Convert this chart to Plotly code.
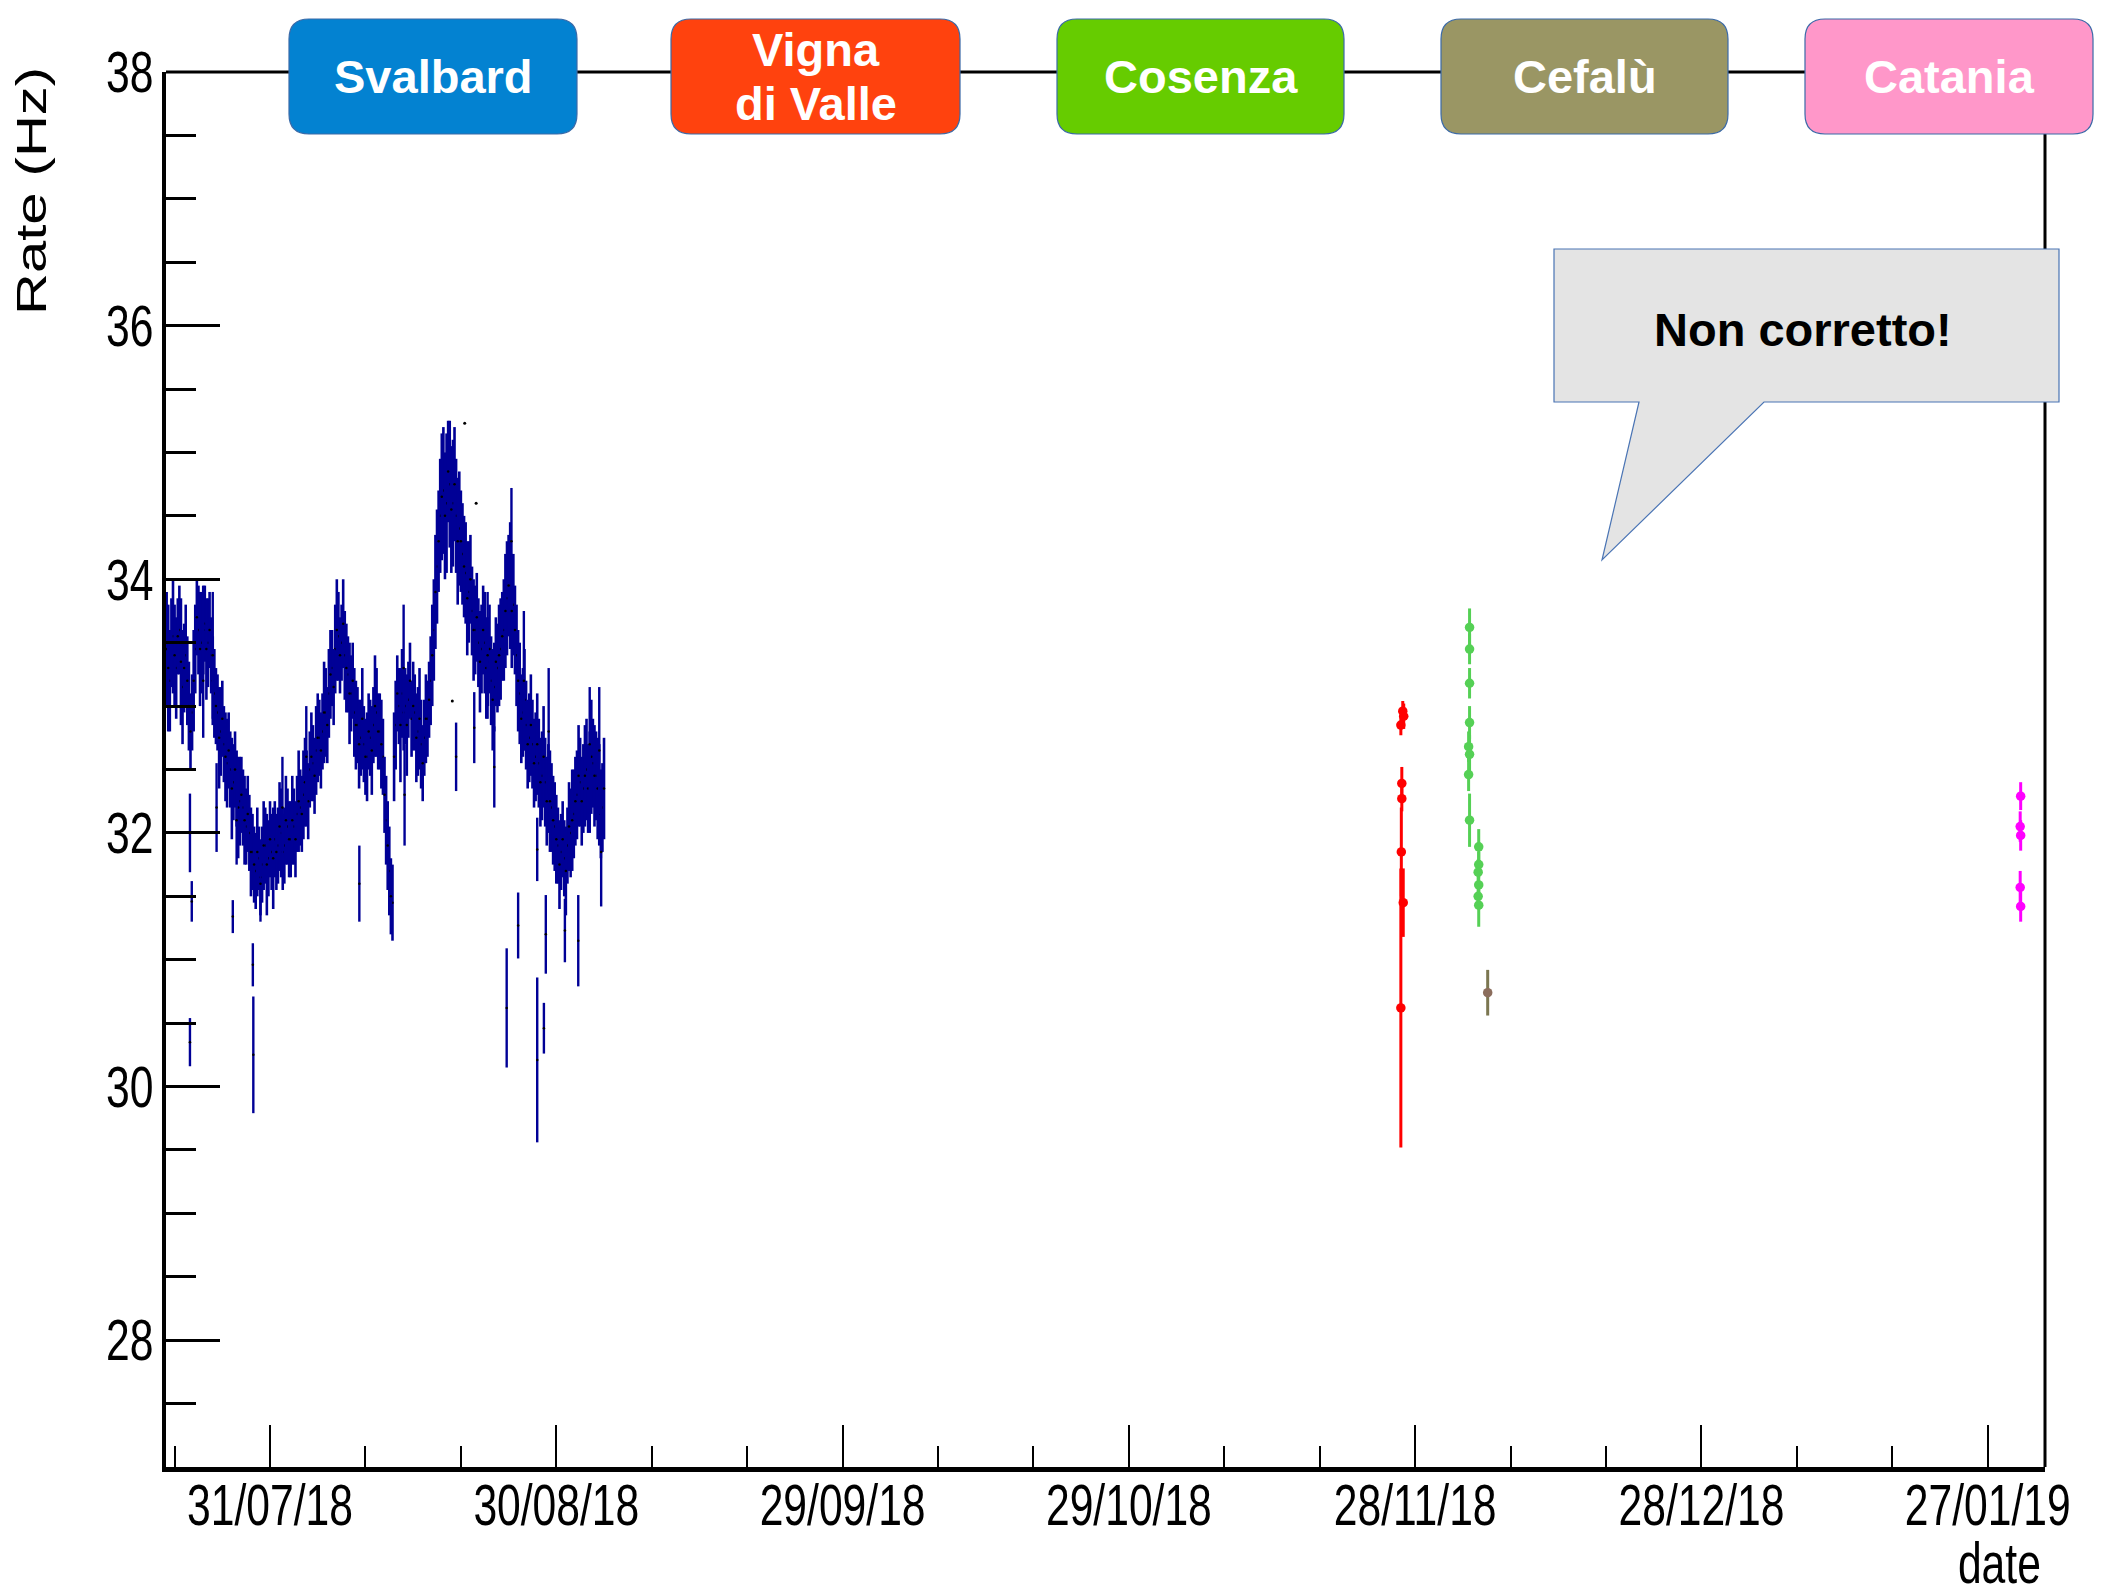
import numpy as np
import pandas as pd
import plotly.graph_objects as go

# ---------------- data ----------------
REF_DATE = pd.Timestamp("2018-07-31")          # day offsets below are relative to this date
SVALBARD_START = "2018-07-20 04:00"            # Svalbard series A: one point every 8 hours
SVALBARD_RATE = [
    33.45, 33.2, 33.55, 33.3, 33.6, 33.15, 33.4, 33.0, 32.95,
    33.45, 33.6, 33.5, 33.65, 33.5, 33.4, 33.1, 32.95, 32.8,
    32.7, 32.55, 32.5, 32.4, 32.35, 32.25, 32.2, 32.05, 32.0,
    31.85, 31.7, 31.8, 31.75, 31.9, 31.8, 31.85, 31.95, 31.9,
    32.0, 31.9, 32.05, 31.95, 32.05, 32.15, 32.2, 32.3, 32.35,
    32.5, 32.55, 32.65, 32.75, 32.8, 32.95, 33.1, 33.3, 33.45,
    33.55, 33.5, 33.4, 33.25, 33.1, 32.95, 32.85, 32.75, 32.7,
    32.6, 32.75, 32.85, 32.95, 32.8, 32.6, 32.1, 31.7, 31.45,
    32.85, 33.0, 33.1, 33.0, 33.05, 32.9, 32.95, 32.8, 32.7,
    32.75, 32.9, 33.2, 33.6, 34.1, 34.5, 34.7, 34.6, 34.75,
    34.6, 34.5, 34.4, 34.2, 34.05, 33.9, 33.75, 33.6, 33.5,
    33.45, 33.5, 33.35, 33.2, 33.15, 33.3, 33.45, 33.6, 33.85,
    33.95, 33.8, 33.4, 33.1, 32.95, 32.85, 32.75, 32.7, 32.6,
    32.55, 32.45, 32.4, 32.35, 32.2, 32.05, 31.9, 31.85, 31.8,
    31.9, 32.0, 32.15, 32.3, 32.4, 32.35, 32.5, 32.4, 32.55,
    32.45, 32.3, 32.2,
]
SVALBARD_ERR = [
    0.45, 0.4, 0.45, 0.4, 0.35, 0.45, 0.4, 0.35, 0.3,
    0.35, 0.35, 0.4, 0.3, 0.35, 0.3, 0.35, 0.3, 0.35,
    0.3, 0.35, 0.3, 0.3, 0.3, 0.35, 0.3, 0.3, 0.3,
    0.3, 0.3, 0.25, 0.3, 0.3, 0.3, 0.3, 0.3, 0.3,
    0.35, 0.3, 0.3, 0.3, 0.3, 0.3, 0.3, 0.35, 0.3,
    0.3, 0.3, 0.35, 0.3, 0.3, 0.35, 0.35, 0.3, 0.35,
    0.35, 0.3, 0.35, 0.3, 0.3, 0.35, 0.3, 0.3, 0.3,
    0.35, 0.3, 0.3, 0.35, 0.3, 0.3, 0.35, 0.35, 0.3,
    0.35, 0.3, 0.35, 0.3, 0.3, 0.3, 0.3, 0.35, 0.35,
    0.3, 0.3, 0.35, 0.4, 0.45, 0.45, 0.5, 0.55, 0.5,
    0.5, 0.45, 0.45, 0.4, 0.4, 0.4, 0.35, 0.35, 0.35,
    0.35, 0.4, 0.35, 0.35, 0.35, 0.35, 0.4, 0.4, 0.45,
    0.5, 0.4, 0.4, 0.4, 0.35, 0.35, 0.35, 0.35, 0.35,
    0.35, 0.35, 0.35, 0.35, 0.35, 0.35, 0.3, 0.3, 0.3,
    0.3, 0.35, 0.35, 0.35, 0.35, 0.35, 0.4, 0.4, 0.35,
    0.35, 0.4, 0.35,
]
SVALBARD_START_B = "2018-07-20 08:00"          # Svalbard series B: interleaved, every 8 hours
SVALBARD_RATE_B = [
    33.3, 33.5, 33.4, 33.55, 33.35, 33.3, 33.2, 32.8, 33.2,
    33.7, 33.45, 33.6, 33.45, 33.6, 33.2, 33.0, 32.75, 32.9,
    32.6, 32.65, 32.35, 32.5, 32.2, 32.3, 32.1, 32.15, 31.85,
    31.75, 31.85, 31.65, 31.9, 31.75, 31.95, 31.8, 31.85, 32.05,
    31.85, 32.1, 31.95, 32.1, 31.95, 32.25, 32.15, 32.4, 32.25,
    32.6, 32.45, 32.75, 32.65, 32.95, 32.85, 33.25, 33.15, 33.6,
    33.4, 33.65, 33.3, 33.1, 33.2, 32.85, 32.7, 32.9, 32.6,
    32.8, 32.65, 33.0, 32.8, 32.7, 32.3, 31.9, 31.5, 32.6,
    33.1, 32.85, 32.95, 32.85, 33.2, 33.0, 32.75, 32.9, 32.55,
    32.9, 33.05, 33.4, 33.9, 34.3, 34.65, 34.5, 34.85, 34.55,
    34.75, 34.3, 34.3, 34.1, 33.85, 34.0, 33.6, 33.7, 33.35,
    33.6, 33.3, 33.45, 33.05, 33.35, 33.4, 33.55, 33.75, 33.95,
    33.75, 33.6, 33.2, 32.9, 33.05, 32.7, 32.85, 32.55, 32.7,
    32.4, 32.6, 32.25, 32.25, 32.1, 31.95, 31.75, 31.95, 31.7,
    32.05, 32.1, 32.25, 32.45, 32.25, 32.45, 32.35, 32.6, 32.45,
    32.35, 32.15, 32.35,
]
SVALBARD_ERR_B = [
    0.5, 0.35, 0.4, 0.3, 0.5, 0.35, 0.35, 0.3, 0.4,
    0.3, 0.45, 0.35, 0.4, 0.3, 0.35, 0.3, 0.4, 0.3,
    0.35, 0.3, 0.4, 0.3, 0.4, 0.3, 0.35, 0.3, 0.35,
    0.3, 0.35, 0.3, 0.35, 0.4, 0.3, 0.4, 0.3, 0.35,
    0.3, 0.35, 0.3, 0.35, 0.3, 0.4, 0.3, 0.35, 0.3,
    0.35, 0.3, 0.35, 0.3, 0.4, 0.3, 0.35, 0.3, 0.4,
    0.3, 0.35, 0.35, 0.4, 0.3, 0.35, 0.35, 0.4, 0.3,
    0.3, 0.35, 0.4, 0.3, 0.35, 0.3, 0.35, 0.3, 0.35,
    0.3, 0.45, 0.3, 0.4, 0.3, 0.35, 0.35, 0.4, 0.3,
    0.35, 0.3, 0.4, 0.45, 0.4, 0.5, 0.5, 0.4, 0.5,
    0.45, 0.5, 0.4, 0.4, 0.45, 0.35, 0.4, 0.35, 0.4,
    0.35, 0.4, 0.35, 0.4, 0.35, 0.4, 0.35, 0.45, 0.4,
    0.45, 0.35, 0.4, 0.35, 0.4, 0.35, 0.4, 0.35, 0.4,
    0.35, 0.4, 0.35, 0.4, 0.35, 0.35, 0.35, 0.3, 0.35,
    0.35, 0.4, 0.35, 0.4, 0.35, 0.4, 0.35, 0.45, 0.4,
    0.4, 0.35, 0.4,
]
# isolated / noisy Svalbard measurements (day offset, rate, error)
SVALBARD_OUT_DAY = [-8.39, -8.2, -8.39, -3.9, -1.8, -1.75, -6.0, 9.36, 14.0, 19.5,
                    21.4, 23.5, 24.8, 25.3, 26.0, 28.0, 28.0, 28.7, 28.9, 30.9, 32.3, 34.7,
                    -5.6, -3.5, -1.0, 1.3, 3.8, 14.1, 22.8, 26.6, 29.2, 33.5, 34.5, -7.0]
SVALBARD_OUT_RATE = [32.0, 31.46, 30.35, 31.34, 30.96, 30.25, 33.4, 31.6, 33.3, 32.6,
                     32.83, 32.52, 30.62, 34.3, 31.27, 30.21, 31.87, 30.46, 31.2, 31.23, 31.15, 31.85,
                     32.2, 32.1, 31.6, 32.2, 32.6, 32.3, 33.4, 33.2, 32.8, 32.7, 32.65, 33.2]
SVALBARD_OUT_ERR = [0.31, 0.16, 0.19, 0.13, 0.17, 0.46, 0.5, 0.3, 0.5, 0.27,
                    0.28, 0.32, 0.47, 0.42, 0.26, 0.65, 0.25, 0.2, 0.31, 0.25, 0.36, 0.43,
                    0.35, 0.35, 0.3, 0.4, 0.4, 0.4, 0.5, 0.55, 0.5, 0.45, 0.5, 0.45]
SVALBARD_DOT_DAY = [20.4, 21.6, 19.1]
SVALBARD_DOT_RATE = [35.23, 34.6, 33.04]

VIGNA_DAY = [118.7, 118.5, 118.8, 118.6, 118.6, 118.55, 118.75, 118.5]
VIGNA_RATE = [32.96, 32.85, 32.92, 32.39, 32.27, 31.85, 31.45, 30.62]
VIGNA_ERR = [0.08, 0.08, 0.1, 0.13, 0.1, 0.35, 0.27, 1.1]

COSENZA_DAY = [125.7, 125.7, 125.7, 125.7, 125.6, 125.7, 125.6, 125.7,
               126.66, 126.66, 126.6, 126.66, 126.6, 126.66]
COSENZA_RATE = [33.62, 33.45, 33.18, 32.87, 32.68, 32.62, 32.46, 32.10,
                31.89, 31.75, 31.69, 31.59, 31.50, 31.43]
COSENZA_ERR = [0.15, 0.12, 0.12, 0.13, 0.12, 0.15, 0.13, 0.21,
               0.14, 0.1, 0.1, 0.1, 0.1, 0.17]

CEFALU_DAY = [127.6]
CEFALU_RATE = [30.74]
CEFALU_ERR = [0.18]

CATANIA_DAY = [183.45, 183.4, 183.45, 183.4, 183.45]
CATANIA_RATE = [32.29, 32.05, 31.98, 31.57, 31.42]
CATANIA_ERR = [0.11, 0.12, 0.12, 0.13, 0.12]

X_TICK_DATES = ["2018-07-31", "2018-08-30", "2018-09-29", "2018-10-29",
                "2018-11-28", "2018-12-28", "2019-01-27"]
X_TICK_TEXT = ["31/07/18", "30/08/18", "29/09/18", "29/10/18",
               "28/11/18", "28/12/18", "27/01/19"]
Y_TICKS = [28, 30, 32, 34, 36, 38]

STATIONS = ["Svalbard", "Vigna|di Valle", "Cosenza", "Cefalù", "Catania"]
STATION_COLORS = ["#0382d1", "#ff420e", "#66cc00", "#9a9664", "#ff97c9"]
STATION_BOX_X = [(289, 577), (671, 960), (1057, 1344), (1441, 1728), (1805, 2093)]
CALLOUT_TEXT = "Non corretto!"

# ---------------- layout geometry (page pixels) ----------------
PAGE_OFF = 8                      # default body margin of the html page
W, H = 2114 - PAGE_OFF, 1587 - PAGE_OFF
PX0, PX1, PY0, PY1 = 166, 2045, 72, 1467      # plot area in page pixels
L, T = PX0 - PAGE_OFF, PY0 - PAGE_OFF
R, B = 2114 - PX1, 1587 - PY1
PW, PH = PX1 - PX0, PY1 - PY0


def px(x, y):
    return (x - PX0) / PW, (PY1 - y) / PH


def days(d):
    return REF_DATE + pd.to_timedelta(np.array(d, dtype=float), unit="D")


def rounded_path(x0, y0, x1, y1, r):
    pts = [("M", [(x0 + r, y0)]), ("L", [(x1 - r, y0)]), ("Q", [(x1, y0), (x1, y0 + r)]),
           ("L", [(x1, y1 - r)]), ("Q", [(x1, y1), (x1 - r, y1)]), ("L", [(x0 + r, y1)]),
           ("Q", [(x0, y1), (x0, y1 - r)]), ("L", [(x0, y0 + r)]), ("Q", [(x0, y0), (x0 + r, y0)])]
    s = ""
    for cmd, ps in pts:
        s += cmd + " " + " ".join("%.5f,%.5f" % px(a, b) for a, b in ps) + " "
    return s + "Z"


def poly_path(points):
    s = "M " + " L ".join("%.5f,%.5f" % px(a, b) for a, b in points)
    return s + " Z"


fig = go.Figure()

NAVY = "#000096"
for start, rate, err in [(SVALBARD_START, SVALBARD_RATE, SVALBARD_ERR),
                         (SVALBARD_START_B, SVALBARD_RATE_B, SVALBARD_ERR_B)]:
    t = pd.date_range(start, periods=len(rate), freq="8h")
    fig.add_trace(go.Scatter(
        x=t, y=rate, mode="markers",
        marker=dict(size=2.5, color="black"),
        error_y=dict(type="data", array=err, color=NAVY, thickness=2.6, width=0),
        showlegend=False))
fig.add_trace(go.Scatter(
    x=days(SVALBARD_OUT_DAY), y=SVALBARD_OUT_RATE, mode="markers",
    marker=dict(size=2.5, color="black"),
    error_y=dict(type="data", array=SVALBARD_OUT_ERR, color=NAVY, thickness=2.4, width=0),
    showlegend=False))
fig.add_trace(go.Scatter(
    x=days(SVALBARD_DOT_DAY), y=SVALBARD_DOT_RATE, mode="markers",
    marker=dict(size=3, color="black"), showlegend=False))


def station_trace(d, v, e, col, ecol=None):
    return go.Scatter(
        x=days(d), y=v, mode="markers",
        marker=dict(size=9.5, color=col, symbol="circle"),
        error_y=dict(type="data", array=e, color=ecol or col, thickness=3, width=0),
        showlegend=False)


fig.add_trace(station_trace(VIGNA_DAY, VIGNA_RATE, VIGNA_ERR, "#ff0000"))
fig.add_trace(station_trace(COSENZA_DAY, COSENZA_RATE, COSENZA_ERR, "#55d055"))
fig.add_trace(station_trace(CEFALU_DAY, CEFALU_RATE, CEFALU_ERR, "#8b6d5c", "#7b7650"))
fig.add_trace(station_trace(CATANIA_DAY, CATANIA_RATE, CATANIA_ERR, "#ff00ff"))

ROOTFONT = dict(family="Liberation Sans, Arial, Helvetica, sans-serif", size=58, color="black")

fig.update_xaxes(
    type="date", range=["2018-07-20 02:24", "2019-02-02 00:00"],
    tickmode="array", tickvals=X_TICK_DATES, ticktext=X_TICK_TEXT, tickangle=0,
    ticks="inside", ticklen=42, tickwidth=2, tickcolor="black",
    minor=dict(tickmode="linear", tick0="2018-07-31", dtick=10 * 86400000,
               ticks="inside", ticklen=21, tickwidth=2, tickcolor="black", showgrid=False),
    showline=True, linewidth=5, linecolor="black",
    showgrid=False, zeroline=False, tickfont=ROOTFONT, ticklabelstandoff=-17)
fig.update_yaxes(
    range=[27, 38], tickmode="array", tickvals=Y_TICKS,
    ticks="inside", ticklen=54, tickwidth=3, tickcolor="black",
    minor=dict(tickmode="linear", tick0=27, dtick=0.5, ticks="inside",
               ticklen=30, tickwidth=3, tickcolor="black", showgrid=False),
    showline=True, linewidth=4, linecolor="black",
    showgrid=False, zeroline=False, tickfont=ROOTFONT, ticklabelstandoff=-3)

shapes = []
shapes.append(dict(type="line", xref="paper", yref="paper", x0=0, x1=1, y0=1, y1=1,
                   line=dict(color="black", width=3), layer="above"))
shapes.append(dict(type="line", xref="paper", yref="paper", x0=1, x1=1, y0=0, y1=1,
                   line=dict(color="black", width=3), layer="above"))

annotations = []
BOX_Y0, BOX_Y1 = 19, 134
for name, col, (bx0, bx1) in zip(STATIONS, STATION_COLORS, STATION_BOX_X):
    shapes.append(dict(type="path", xref="paper", yref="paper",
                       path=rounded_path(bx0, BOX_Y0, bx1, BOX_Y1, 20),
                       fillcolor=col, line=dict(color="#3b6aa8", width=1.2), layer="above"))
    lines = name.split("|")
    cx = (bx0 + bx1) / 2
    cy = (BOX_Y0 + BOX_Y1) / 2
    step = 53
    for i, ln in enumerate(lines):
        yy = cy + (i - (len(lines) - 1) / 2) * step
        ax, ay = px(cx, yy)
        annotations.append(dict(text="<b>%s</b>" % ln, x=ax, y=ay, xref="paper", yref="paper",
                                xanchor="center", yanchor="middle", showarrow=False,
                                font=dict(family="Liberation Sans, Arial, sans-serif",
                                          size=47, color="white")))

callout_pts = [(1554, 249), (2059, 249), (2059, 402), (1764, 402), (1602, 560), (1639, 402), (1554, 402)]
shapes.append(dict(type="path", xref="paper", yref="paper", path=poly_path(callout_pts),
                   fillcolor="#e4e4e4", line=dict(color="#4a74b4", width=1.2), layer="above"))
cx, cy = px(1803, 329)
annotations.append(dict(text="<b>%s</b>" % CALLOUT_TEXT, x=cx, y=cy, xref="paper", yref="paper",
                        xanchor="center", yanchor="middle", showarrow=False,
                        font=dict(family="Liberation Sans, Arial, sans-serif", size=47, color="black")))

tx, ty = px(31, 191)
annotations.append(dict(text="Rate (Hz)", x=tx, y=ty, xref="paper", yref="paper", textangle=-90,
                        xanchor="center", yanchor="middle", showarrow=False, font=ROOTFONT))
dx, dy = px(2043, 1562)
annotations.append(dict(text="date", x=dx, y=dy, xref="paper", yref="paper",
                        xanchor="right", yanchor="middle", showarrow=False, font=ROOTFONT))

fig.update_layout(
    width=W, height=H,
    margin=dict(l=L, r=R, t=T, b=B, autoexpand=False),
    paper_bgcolor="white", plot_bgcolor="white",
    shapes=shapes, annotations=annotations, showlegend=False,
    hovermode=False)

# ROOT texts are drawn horizontally compressed: squeeze the axis texts in x
SQUEEZE_JS = """
var S = 0.735;
function sqApply(el, mode) {
  var cur = el.getAttribute('transform') || '';
  if (el.__sqApplied !== undefined && cur === el.__sqApplied) return;
  var bb = el.getBBox();
  var t;
  if (mode === 'rot') {
    var ay = bb.y + bb.height / 2;
    t = cur + ' translate(0,' + ay + ') scale(1,' + S + ') translate(0,' + (-ay) + ')';
  } else {
    var ax = (mode === 'right') ? bb.x + bb.width : bb.x + bb.width / 2;
    t = cur + ' translate(' + ax + ',0) scale(' + S + ',1) translate(' + (-ax) + ',0)';
  }
  el.setAttribute('transform', t);
  el.__sqApplied = t;
}
function sqAll() {
  var gd = document.querySelector('.plotly-graph-div');
  if (!gd) return;
  gd.querySelectorAll('.xtick text').forEach(function (e) { sqApply(e, 'center'); });
  gd.querySelectorAll('.ytick text').forEach(function (e) { sqApply(e, 'right'); });
  gd.querySelectorAll('.annotation-text').forEach(function (e) {
    var txt = e.textContent;
    if (txt === 'date') sqApply(e, 'right');
    else if (txt === 'Rate (Hz)') sqApply(e, 'rot');
  });
}
try {
  sqAll();
  var gd0 = document.querySelector('.plotly-graph-div');
  if (gd0 && gd0.on) gd0.on('plotly_afterplot', sqAll);
} catch (err) {}
"""

fig.write_html("out.html", post_script=SQUEEZE_JS)
